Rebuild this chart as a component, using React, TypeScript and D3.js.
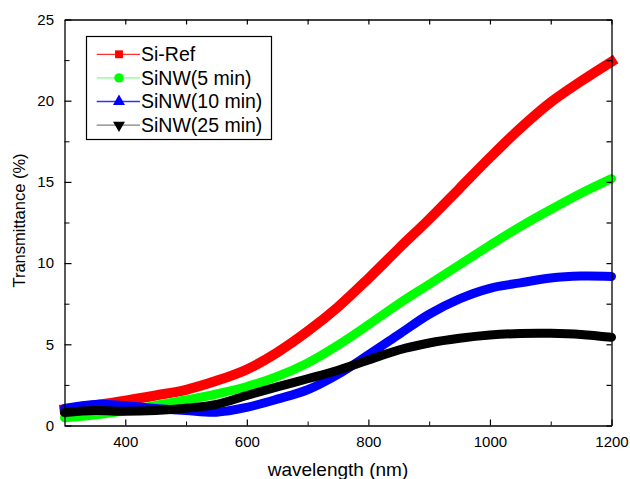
import React, { useEffect, useRef } from "react";
import * as d3 from "d3";

// wavelength (nm) sample points
const wavelengths = [300, 350, 400, 450, 500, 550, 600, 650, 700, 750, 800, 850, 900, 950, 1000, 1050, 1100, 1150, 1200];

const siRef = [1.0, 1.25, 1.53, 1.85, 2.2, 2.75, 3.45, 4.5, 5.8, 7.3, 9.05, 10.9, 12.7, 14.6, 16.5, 18.3, 19.9, 21.2, 22.4];
const siNW5 = [0.48, 0.65, 0.9, 1.24, 1.57, 1.94, 2.4, 3.02, 3.85, 4.95, 6.2, 7.5, 8.7, 9.9, 11.1, 12.25, 13.3, 14.3, 15.2];
const siNW10 = [1.05, 1.3, 1.22, 1.05, 0.92, 0.82, 1.12, 1.62, 2.2, 3.15, 4.35, 5.6, 6.85, 7.8, 8.45, 8.78, 9.08, 9.2, 9.18];
const siNW25 = [0.8, 0.92, 0.87, 0.92, 1.06, 1.3, 1.85, 2.38, 2.88, 3.4, 4.03, 4.65, 5.08, 5.37, 5.57, 5.67, 5.68, 5.61, 5.43];

const seriesNames = ["Si-Ref", "SiNW(5 min)", "SiNW(10 min)", "SiNW(25 min)"];
const seriesColors = ["#ff0000", "#00ff00", "#0000ff", "#000000"];
const legendLineColors = ["#ff3030", "#80ff80", "#3030ff", "#808080"];
const seriesSymbols = [d3.symbolSquare, d3.symbolCircle, d3.symbolTriangle, d3.symbolTriangle];

const xMajor = [400, 600, 800, 1000, 1200];
const xMinor = [500, 700, 900, 1100];
const yMajor = [0, 5, 10, 15, 20, 25];
const yMinor = [2.5, 7.5, 12.5, 17.5, 22.5];

const width = 630;
const height = 479;
const margin = { top: 19.5, right: 18.5, bottom: 53.5, left: 64.5 };
const font = "'Liberation Sans', Arial, sans-serif";

export default function App() {
  const ref = useRef<SVGSVGElement>(null);

  useEffect(() => {
    const svg = d3.select(ref.current);
    svg.selectAll("*").remove();

    const x = d3.scaleLinear().domain([300, 1200]).range([margin.left, width - margin.right]);
    const y = d3.scaleLinear().domain([0, 25]).range([height - margin.bottom, margin.top]);

    const allSeries = [siRef, siNW5, siNW10, siNW25];

    const line = d3.line<number>()
      .x((d, i) => x(wavelengths[i]))
      .y(d => y(d))
      .curve(d3.curveCatmullRom.alpha(0.5));

    svg.append("g")
      .selectAll("path")
      .data(allSeries)
      .enter()
      .append("path")
        .attr("fill", "none")
        .attr("stroke", (d, i) => seriesColors[i])
        .attr("stroke-width", (d, i) => (i === 0 ? 10 : 9))
        .attr("stroke-linejoin", "round")
        .attr("stroke-linecap", (d, i) => (i === 0 ? "square" : "round"))
        .attr("d", line);

    // axes, ticks inward
    const styleAxis = (g: any) => {
      g.select(".domain").attr("stroke-width", 1.3);
      g.selectAll(".tick line").attr("stroke-width", 1.2);
      g.selectAll("text").attr("font-family", font).attr("font-size", 15).attr("fill", "#000");
    };

    const bottom = svg.append("g")
      .attr("transform", `translate(0,${height - margin.bottom})`)
      .call(d3.axisBottom(x).tickValues(xMajor).tickSizeInner(-6).tickSizeOuter(0).tickPadding(11).tickFormat(d3.format("d")));
    styleAxis(bottom);
    svg.append("g")
      .attr("transform", `translate(0,${height - margin.bottom})`)
      .call(d3.axisBottom(x).tickValues(xMinor).tickSize(-4).tickFormat(() => ""))
      .call(g => g.select(".domain").remove());

    const top = svg.append("g")
      .attr("transform", `translate(0,${margin.top})`)
      .call(d3.axisTop(x).tickValues([...xMajor, ...xMinor]).tickSizeInner(-5).tickSizeOuter(0).tickFormat(() => ""));
    styleAxis(top);

    const left = svg.append("g")
      .attr("transform", `translate(${margin.left},0)`)
      .call(d3.axisLeft(y).tickValues(yMajor).tickSizeInner(-7).tickSizeOuter(0).tickPadding(10.5));
    styleAxis(left);
    svg.append("g")
      .attr("transform", `translate(${margin.left},0)`)
      .call(d3.axisLeft(y).tickValues(yMinor).tickSize(-5).tickFormat(() => ""))
      .call(g => g.select(".domain").remove());

    const right = svg.append("g")
      .attr("transform", `translate(${width - margin.right},0)`)
      .call(d3.axisRight(y).tickValues([...yMajor, ...yMinor]).tickSizeInner(-5).tickSizeOuter(0).tickFormat(() => ""));
    styleAxis(right);

    // axis titles
    svg.append("text")
      .attr("x", (margin.left + width - margin.right) / 2)
      .attr("y", 476)
      .attr("text-anchor", "middle")
      .attr("font-family", font)
      .attr("font-size", 19)
      .text("wavelength (nm)");

    svg.append("text")
      .attr("transform", `translate(24.5,${y(12.5) - 2}) rotate(-90)`)
      .attr("text-anchor", "middle")
      .attr("font-family", font)
      .attr("font-size", 16.5)
      .text("Transmittance (%)");

    // legend
    const legend = svg.append("g");
    legend.append("rect")
      .attr("x", 86.5).attr("y", 36.5)
      .attr("width", 185).attr("height", 103)
      .attr("fill", "white").attr("stroke", "#000").attr("stroke-width", 1.2);

    const rows = legend.selectAll(".row")
      .data(seriesNames)
      .enter()
      .append("g")
        .attr("transform", (d, i) => `translate(0,${54.3 + i * 23.6})`);

    rows.append("line")
      .attr("x1", 96.7).attr("x2", 140)
      .attr("stroke", (d, i) => legendLineColors[i])
      .attr("stroke-width", 1.3);

    rows.append("path")
      .attr("transform", (d, i) => `translate(119,0)${i === 3 ? " rotate(180)" : ""}`)
      .attr("d", (d, i) => d3.symbol().type(seriesSymbols[i]).size(i === 1 ? 70 : 62)())
      .attr("fill", (d, i) => seriesColors[i]);

    rows.append("text")
      .attr("x", 141)
      .attr("y", 6.8)
      .attr("font-family", font)
      .attr("font-size", 19.5)
      .text(d => d);
  }, []);

  return (
    <svg
      ref={ref}
      width={width}
      height={height}
      style={{ position: "absolute", left: 0, top: 0, background: "#fff" }}
    />
  );
}
